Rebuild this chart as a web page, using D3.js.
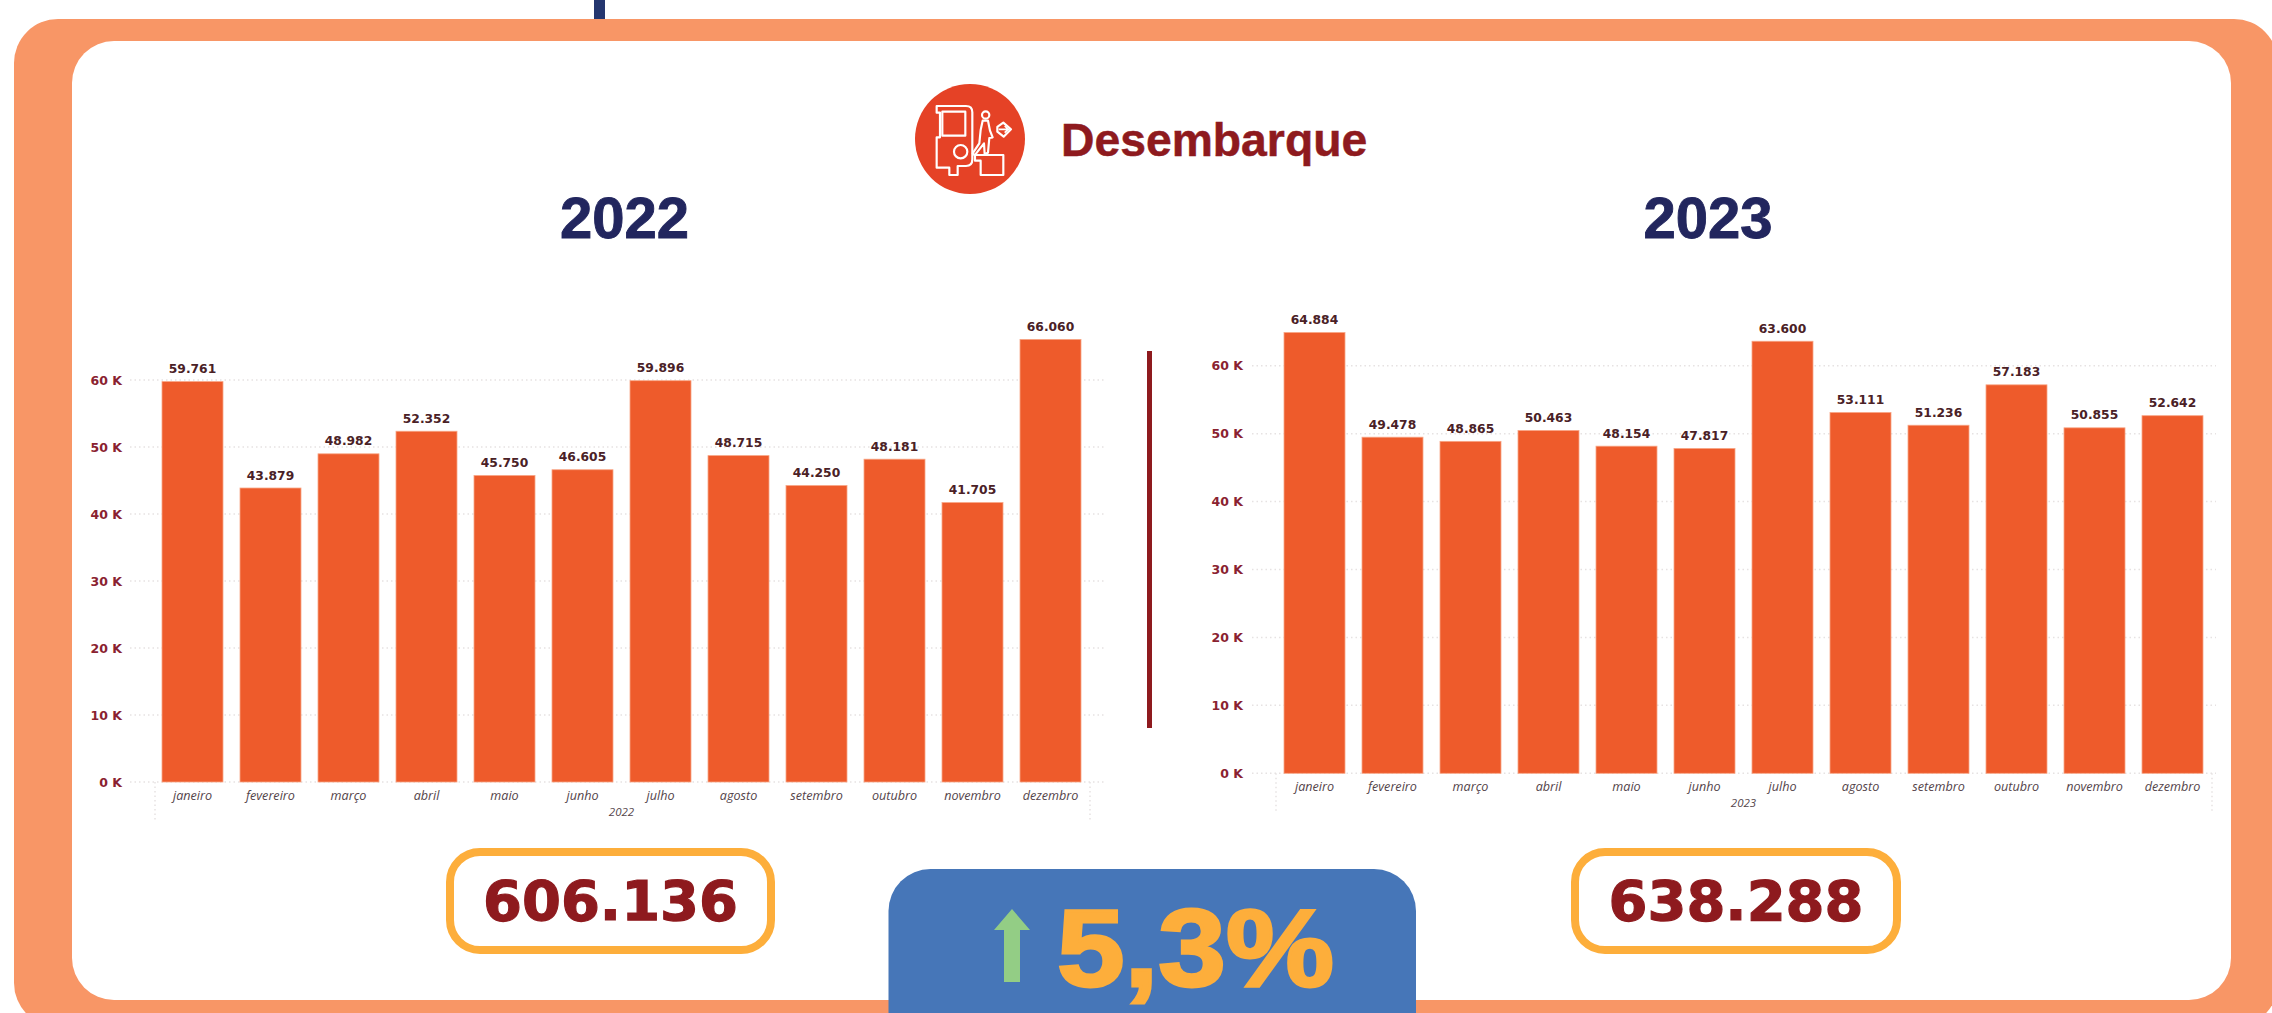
<!DOCTYPE html>
<html lang="pt">
<head>
<meta charset="utf-8">
<title>Desembarque</title>
<script src="https://cdn.jsdelivr.net/npm/d3@7"></script>
<style>
html,body{margin:0;padding:0;background:#fff;overflow:hidden}
svg{display:block}
</style>
</head>
<body>
<svg id="chart" width="2272" height="1013"></svg>
<script>
const months = ["janeiro","fevereiro","março","abril","maio","junho","julho","agosto","setembro","outubro","novembro","dezembro"];
const values2022 = [59761,43879,48982,52352,45750,46605,59896,48715,44250,48181,41705,66060];
const values2023 = [64884,49478,48865,50463,48154,47817,63600,53111,51236,57183,50855,52642];
const axisTicks = [0,10000,20000,30000,40000,50000,60000];
const title = "Desembarque";
const total2022 = "606.136";
const total2023 = "638.288";
const variation = "5,3%";

const C = {orange:"#F89666",bar:"#EE5B2B",barEdge:"#F8A585",red:"#8E1A1E",navy:"#22265E",
  stub:"#24366F",gold:"#FDAE3B",blue:"#4676B8",green:"#93CD85",icon:"#E54226",
  label:"#4A2126",tick:"#8A2230",month:"#54444A",grid:"#E6E2E2"};
const svg = d3.select("#chart");

// Frame
svg.append("rect").attr("x",594).attr("y",0).attr("width",11).attr("height",24).attr("fill",C.stub);
svg.append("rect").attr("x",14).attr("y",19).attr("width",2264).attr("height",1008).attr("rx",44).attr("fill",C.orange);
svg.append("rect").attr("x",72).attr("y",41).attr("width",2159).attr("height",959).attr("rx",42).attr("fill","#fff");

// Header icon
const ic = svg.append("g").attr("transform","translate(910,80) scale(0.3333)");
ic.append("circle").attr("cx",180).attr("cy",177).attr("r",165).attr("fill",C.icon);
const is = ic.append("g").attr("fill","none").attr("stroke","#fff").attr("stroke-width",6.5).attr("stroke-linejoin","round");
is.append("path").attr("d","M80,78H168Q187,78 187,97V238Q187,258 168,258H143V285H118V263H80V172H90V98H80Z");
is.append("rect").attr("x",97).attr("y",95).attr("width",69).attr("height",72);
is.append("circle").attr("cx",152).attr("cy",215).attr("r",20);
is.append("path").attr("d","M195,225H280V285H212V242H195Z");
is.append("circle").attr("cx",227).attr("cy",105).attr("r",11);
is.append("path").attr("d","M218,122H234L240,152L248,172L238,174L234,218L224,222L222,190L194,226L188,220L208,190L212,150Z");
is.append("path").attr("d","M280,128L303,148L281,170L262,155V141Z");
is.append("path").attr("d","M266,148H294M284,138L295,148L284,158").attr("stroke-width",5);

svg.append("text").text(title).attr("x",1061).attr("y",156)
  .attr("font-family","Liberation Sans").attr("font-weight",700).attr("font-size",46.3).attr("fill",C.red)
  .attr("stroke",C.red).attr("stroke-width",0.5);

// Year panels
function panel(cfg){
  const x = d3.scaleBand().domain(months).range(cfg.xRange).paddingInner(0.218).paddingOuter(0);
  const y = d3.scaleLinear().domain([0,60000]).range([cfg.y0,cfg.y60]);
  const g = svg.append("g");

  const yAxis = g.append("g").attr("transform",`translate(${cfg.tickRight},0)`)
    .call(d3.axisLeft(y).tickValues(axisTicks).tickSize(0).tickPadding(0).tickFormat(d=>`${d/1000} K`));
  yAxis.select(".domain").remove();
  yAxis.selectAll("text").attr("font-family","DejaVu Sans").attr("font-weight",700).attr("font-size",12.5).attr("fill",C.tick);

  g.append("g").selectAll("line").data(axisTicks).join("line")
    .attr("x1",cfg.gridX[0]).attr("x2",cfg.gridX[1]).attr("y1",d=>y(d)).attr("y2",d=>y(d))
    .attr("stroke",C.grid).attr("stroke-width",1.5).attr("stroke-dasharray","1.5 3");
  g.append("g").selectAll("line").data(cfg.frameX).join("line")
    .attr("x1",d=>d).attr("x2",d=>d).attr("y1",cfg.y0).attr("y2",cfg.y0+40)
    .attr("stroke",C.grid).attr("stroke-width",1.5).attr("stroke-dasharray","1.5 3");

  g.append("g").selectAll("rect").data(cfg.values).join("rect")
    .attr("x",(d,i)=>x(months[i])).attr("width",x.bandwidth())
    .attr("y",d=>y(d)).attr("height",d=>cfg.y0-y(d))
    .attr("fill",C.bar).attr("stroke",C.barEdge).attr("stroke-width",0.8);

  g.append("g").selectAll("text").data(cfg.values).join("text")
    .text(d=>d3.format(",")(d).replace(",","."))
    .attr("x",(d,i)=>x(months[i])+x.bandwidth()/2).attr("y",d=>y(d)-8.5)
    .attr("text-anchor","middle").attr("font-family","DejaVu Sans").attr("font-weight",700)
    .attr("font-size",12.3).attr("fill",C.label);

  const xAxis = g.append("g").attr("transform",`translate(0,${cfg.y0})`)
    .call(d3.axisBottom(x).tickSize(0).tickPadding(0));
  xAxis.select(".domain").remove();
  xAxis.selectAll("text").attr("dy",0).attr("y",18).attr("font-family","Open Sans").attr("font-style","italic")
    .attr("font-size",12.6).attr("fill",C.month);

  g.append("text").text(cfg.year).attr("x",(cfg.xRange[0]+cfg.xRange[1])/2).attr("y",cfg.y0+34)
    .attr("text-anchor","middle").attr("font-family","Open Sans").attr("font-style","italic")
    .attr("font-size",11.5).attr("fill",C.month);

  svg.append("text").text(cfg.year).attr("x",cfg.titleX).attr("y",237.5).attr("text-anchor","middle")
    .attr("font-family","Liberation Sans").attr("font-weight",700).attr("font-size",58).attr("fill",C.navy)
    .attr("stroke",C.navy).attr("stroke-width",0.9);

  svg.append("rect").attr("x",cfg.box[0]).attr("y",852).attr("width",cfg.box[1]).attr("height",98).attr("rx",30)
    .attr("fill","#fff").attr("stroke",C.gold).attr("stroke-width",8);
  svg.append("text").text(cfg.total).attr("x",cfg.box[0]+cfg.box[1]/2).attr("y",920).attr("text-anchor","middle")
    .attr("font-family","DejaVu Sans").attr("font-weight",700).attr("font-size",56).attr("fill",C.red)
    .attr("stroke",C.red).attr("stroke-width",1.2);
}

panel({year:"2022",values:values2022,total:total2022,xRange:[162,1081],y0:782,y60:380,tickRight:122,
  gridX:[130,1106],frameX:[155,1090],titleX:624.5,box:[450,321]});
panel({year:"2023",values:values2023,total:total2023,xRange:[1284,2203],y0:773.3,y60:365.7,tickRight:1243,
  gridX:[1252,2216],frameX:[1276,2212],titleX:1708,box:[1575,322]});

// Divider
svg.append("rect").attr("x",1147).attr("y",351).attr("width",5).attr("height",377).attr("fill",C.red);

// Variation badge
svg.append("rect").attr("x",888.5).attr("y",869).attr("width",527.5).attr("height",200).attr("rx",42).attr("fill",C.blue);
svg.append("path").attr("d","M1012,909L1030,930H1020V982H1004V930H994Z").attr("fill",C.green);
svg.append("text").text(variation).attr("x",1057).attr("y",986)
  .attr("textLength",277).attr("lengthAdjust","spacingAndGlyphs")
  .attr("font-family","Liberation Sans").attr("font-weight",700).attr("font-size",110).attr("fill",C.gold)
  .attr("stroke",C.gold).attr("stroke-width",3);
</script>
</body>
</html>
